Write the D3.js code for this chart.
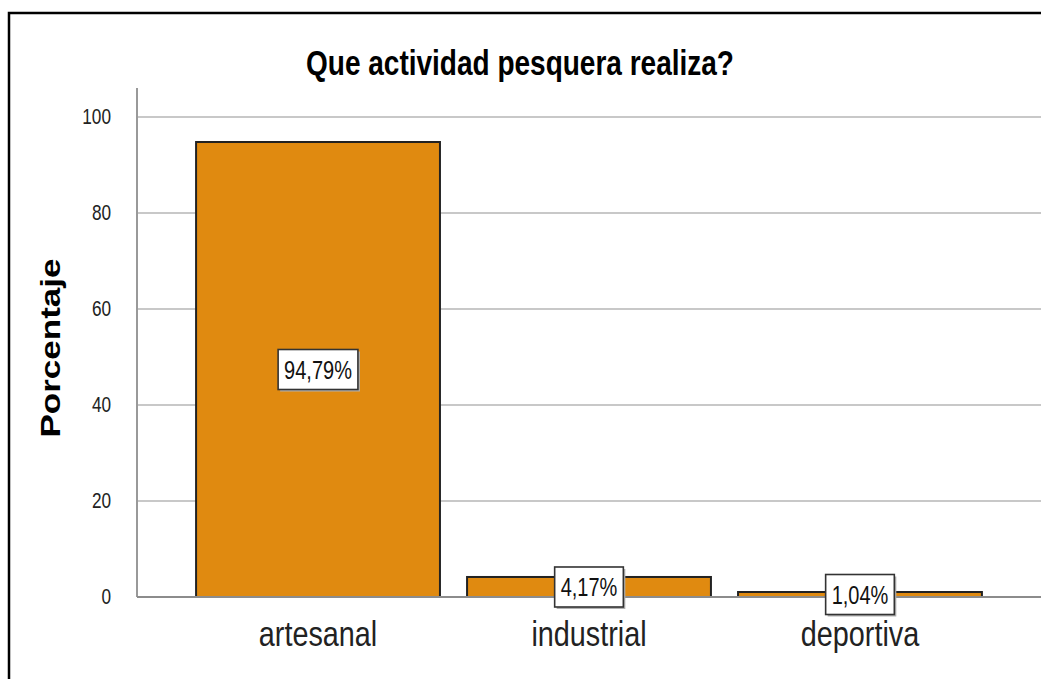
<!DOCTYPE html>
<html>
<head>
<meta charset="utf-8">
<script src="https://cdn.jsdelivr.net/npm/d3@7"></script>
<style>
  html, body { margin: 0; padding: 0; background: #fff; }
  svg { display: block; }
</style>
</head>
<body>
<svg id="chart"></svg>
<script>
//data
const categories = ["artesanal", "industrial", "deportiva"];
const percentages = [94.79, 4.17, 1.04];
const valueLabels = ["94,79%", "4,17%", "1,04%"];
const yTicks = [0, 20, 40, 60, 80, 100];
const title = "Que actividad pesquera realiza?";
const yTitle = "Porcentaje";

//layout
const width = 1041, height = 679;
const margin = { left: 137, right: 0, top: 88, bottom: 82 };
const font = "'Liberation Sans', Arial, sans-serif";
//the original text is horizontally condensed
const squeeze = 0.8;

const svg = d3.select("#chart").attr("width", width).attr("height", height);

//outer frame (only top and left edges visible)
svg.append("path")
  .attr("d", `M9,${height} V13 H${width}`)
  .attr("fill", "none")
  .attr("stroke", "#000")
  .attr("stroke-width", 2.5);

//scales
const x = d3.scaleBand()
  .domain(categories)
  .range([margin.left, width])
  .paddingInner(0.1)
  .paddingOuter(0.218);

const y = d3.scaleLinear()
  .domain([0, 100])
  .range([597, 117]);

//gridlines
svg.append("g")
  .selectAll("line")
  .data(yTicks.filter(d => d > 0))
  .join("line")
  .attr("x1", margin.left)
  .attr("x2", width)
  .attr("y1", d => y(d))
  .attr("y2", d => y(d))
  .attr("stroke", "#c8c8c8")
  .attr("stroke-width", 2);

//y axis
const yAxis = svg.append("g")
  .attr("transform", `translate(${margin.left},0)`)
  .call(d3.axisLeft(y).tickValues(yTicks).tickSize(0).tickPadding(0));
yAxis.select(".domain").remove();
yAxis.selectAll("text")
  .attr("x", 0)
  .attr("transform", `translate(-26,0) scale(${squeeze},1)`)
  .attr("font-family", font)
  .attr("font-size", 21.5)
  .attr("fill", "#222");
svg.append("line")
  .attr("x1", margin.left).attr("x2", margin.left)
  .attr("y1", margin.top).attr("y2", y(0))
  .attr("stroke", "#999")
  .attr("stroke-width", 2);

//bars
svg.append("g")
  .selectAll("rect")
  .data(percentages)
  .join("rect")
  .attr("x", (d, i) => x(categories[i]))
  .attr("width", x.bandwidth())
  .attr("y", d => y(d))
  .attr("height", d => y(0) - y(d))
  .attr("fill", "#e08a10")
  .attr("stroke", "#222")
  .attr("stroke-width", 2);

//x baseline
svg.append("line")
  .attr("x1", margin.left).attr("x2", width)
  .attr("y1", y(0)).attr("y2", y(0))
  .attr("stroke", "#8c8c8c")
  .attr("stroke-width", 2);

//x axis labels
const xAxis = svg.append("g")
  .attr("transform", `translate(0,${y(0)})`)
  .call(d3.axisBottom(x).tickSize(0).tickPadding(0));
xAxis.select(".domain").remove();
xAxis.selectAll("text")
  .attr("y", 0)
  .attr("dy", 0)
  .attr("transform", `translate(0,49) scale(${squeeze},1)`)
  .attr("font-family", font)
  .attr("font-size", 36)
  .attr("fill", "#222");

//value label boxes
const lbl = svg.append("g")
  .selectAll("g")
  .data(percentages)
  .join("g")
  .attr("transform", (d, i) =>
    `translate(${x(categories[i]) + x.bandwidth() / 2},${(y(d) + y(0)) / 2})`);

lbl.append("text")
  .attr("text-anchor", "middle")
  .attr("dy", "0.36em")
  .attr("transform", `scale(${squeeze},1)`)
  .attr("font-family", font)
  .attr("font-size", 25)
  .attr("fill", "#111")
  .text((d, i) => valueLabels[i])
  .each(function() {
    const w = this.getBBox().width * squeeze + 12;
    const g = d3.select(this.parentNode);
    g.insert("rect", "text")
      .attr("x", -w / 2 + 2).attr("y", -20 + 2)
      .attr("width", w).attr("height", 40)
      .attr("fill", "#b0b0b0");
    g.insert("rect", "text")
      .attr("x", -w / 2).attr("y", -20)
      .attr("width", w).attr("height", 40)
      .attr("fill", "#fff")
      .attr("stroke", "#333")
      .attr("stroke-width", 1.6);
  });

//title
svg.append("text")
  .attr("transform", `translate(520,75) scale(${squeeze},1)`)
  .attr("text-anchor", "middle")
  .attr("font-family", font)
  .attr("font-weight", "bold")
  .attr("font-size", 35)
  .attr("fill", "#000")
  .text(title);

//y axis title
svg.append("text")
  .attr("transform", `translate(60,348) scale(${squeeze},1) rotate(-90)`)
  .attr("text-anchor", "middle")
  .attr("font-family", font)
  .attr("font-weight", "bold")
  .attr("font-size", 35)
  .attr("fill", "#000")
  .text(yTitle);
</script>
</body>
</html>
